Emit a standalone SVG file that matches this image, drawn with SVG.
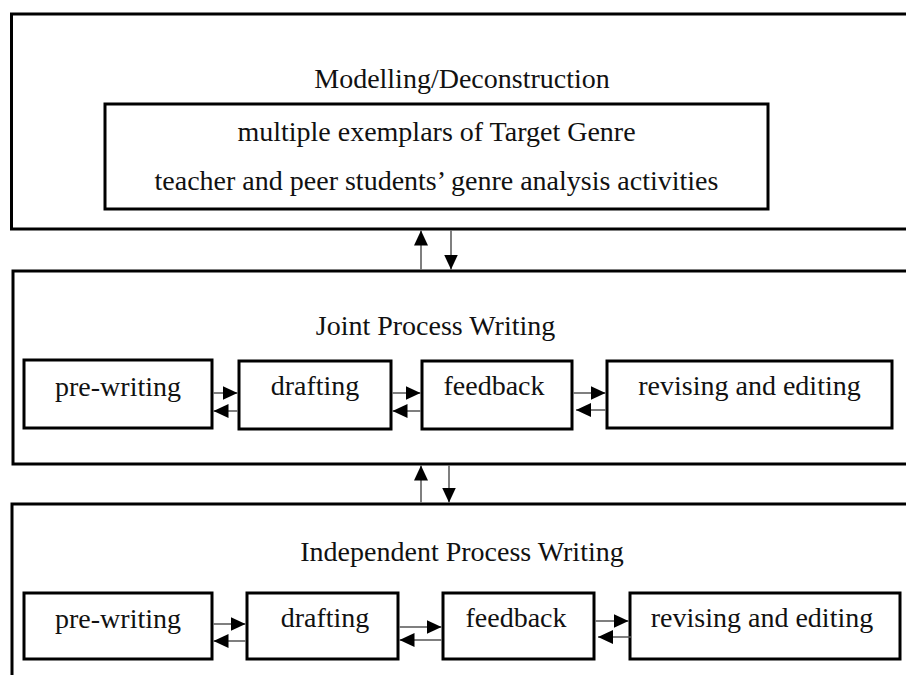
<svg xmlns="http://www.w3.org/2000/svg" width="906" height="675" viewBox="0 0 906 675">
<style>
.frame{fill:none;stroke:#000;stroke-width:3}
.box{fill:#fff;stroke:#000;stroke-width:3}
.t{font-family:"Liberation Serif","Times New Roman",serif;font-size:28px;fill:#111;text-anchor:middle}
.c{stroke:#555;stroke-width:1.5;fill:none;marker-end:url(#ah)}
</style>
<defs>
<marker id="ah" markerUnits="userSpaceOnUse" markerWidth="16" markerHeight="16" refX="15" refY="7" orient="auto">
<path d="M0,0 L15,7 L0,14 Z" fill="#000"/>
</marker>
</defs>
<rect width="906" height="675" fill="#fff"/>

<g id="modelling">
<rect class="frame" x="11.5" y="14" width="1000" height="215"/>
<text class="t" x="462" y="88">Modelling/Deconstruction</text>
</g>
<g id="exemplars">
<rect class="box" x="105" y="104" width="663" height="105"/>
<text class="t" x="436.5" y="141">multiple exemplars of Target Genre</text>
<text class="t" x="436.5" y="190">teacher and peer students’ genre analysis activities</text>
</g>

<g id="joint">
<rect class="frame" x="13" y="271" width="1000" height="193"/>
<text class="t" x="435.5" y="335">Joint Process Writing</text>
</g>
<g id="j-prewriting"><rect class="box" x="24" y="360" width="188" height="68"/><text class="t" x="118" y="396">pre-writing</text></g>
<g id="j-drafting"><rect class="box" x="239" y="361" width="152" height="68"/><text class="t" x="315" y="395">drafting</text></g>
<g id="j-feedback"><rect class="box" x="422" y="361" width="150" height="68"/><text class="t" x="494" y="395">feedback</text></g>
<g id="j-revising"><rect class="box" x="607" y="361" width="285" height="67"/><text class="t" x="749.5" y="395">revising and editing</text></g>

<g id="independent">
<rect class="frame" x="12" y="504" width="1000" height="300"/>
<text class="t" x="462" y="561">Independent Process Writing</text>
</g>
<g id="i-prewriting"><rect class="box" x="24" y="593" width="188" height="66"/><text class="t" x="118" y="628">pre-writing</text></g>
<g id="i-drafting"><rect class="box" x="247" y="593" width="151" height="66"/><text class="t" x="325" y="627">drafting</text></g>
<g id="i-feedback"><rect class="box" x="443" y="593" width="151" height="66"/><text class="t" x="516" y="627">feedback</text></g>
<g id="i-revising"><rect class="box" x="630" y="593" width="270" height="66"/><text class="t" x="762" y="627">revising and editing</text></g>

<g id="connectors">
<line class="c" x1="421" y1="269.5" x2="421" y2="230.5"/>
<line class="c" x1="451" y1="230.5" x2="451" y2="269.5"/>
<line class="c" x1="421" y1="502.5" x2="421" y2="465.5"/>
<line class="c" x1="449" y1="465.5" x2="449" y2="502.5"/>

<line class="c" x1="213.5" y1="393" x2="237.5" y2="393"/>
<line class="c" x1="237.5" y1="411" x2="213.5" y2="411"/>
<line class="c" x1="392.5" y1="393" x2="420.5" y2="393"/>
<line class="c" x1="420.5" y1="411" x2="392.5" y2="411"/>
<line class="c" x1="573.5" y1="393" x2="605.5" y2="393"/>
<line class="c" x1="605.5" y1="410" x2="576" y2="410"/>

<line class="c" x1="213.5" y1="624" x2="245.5" y2="624"/>
<line class="c" x1="245.5" y1="641" x2="213.5" y2="641"/>
<line class="c" x1="399.5" y1="627" x2="441.5" y2="627"/>
<line class="c" x1="441.5" y1="640" x2="399.5" y2="640"/>
<line class="c" x1="595.5" y1="621" x2="628.5" y2="621"/>
<line class="c" x1="631" y1="637" x2="598" y2="637"/>
</g>
</svg>
